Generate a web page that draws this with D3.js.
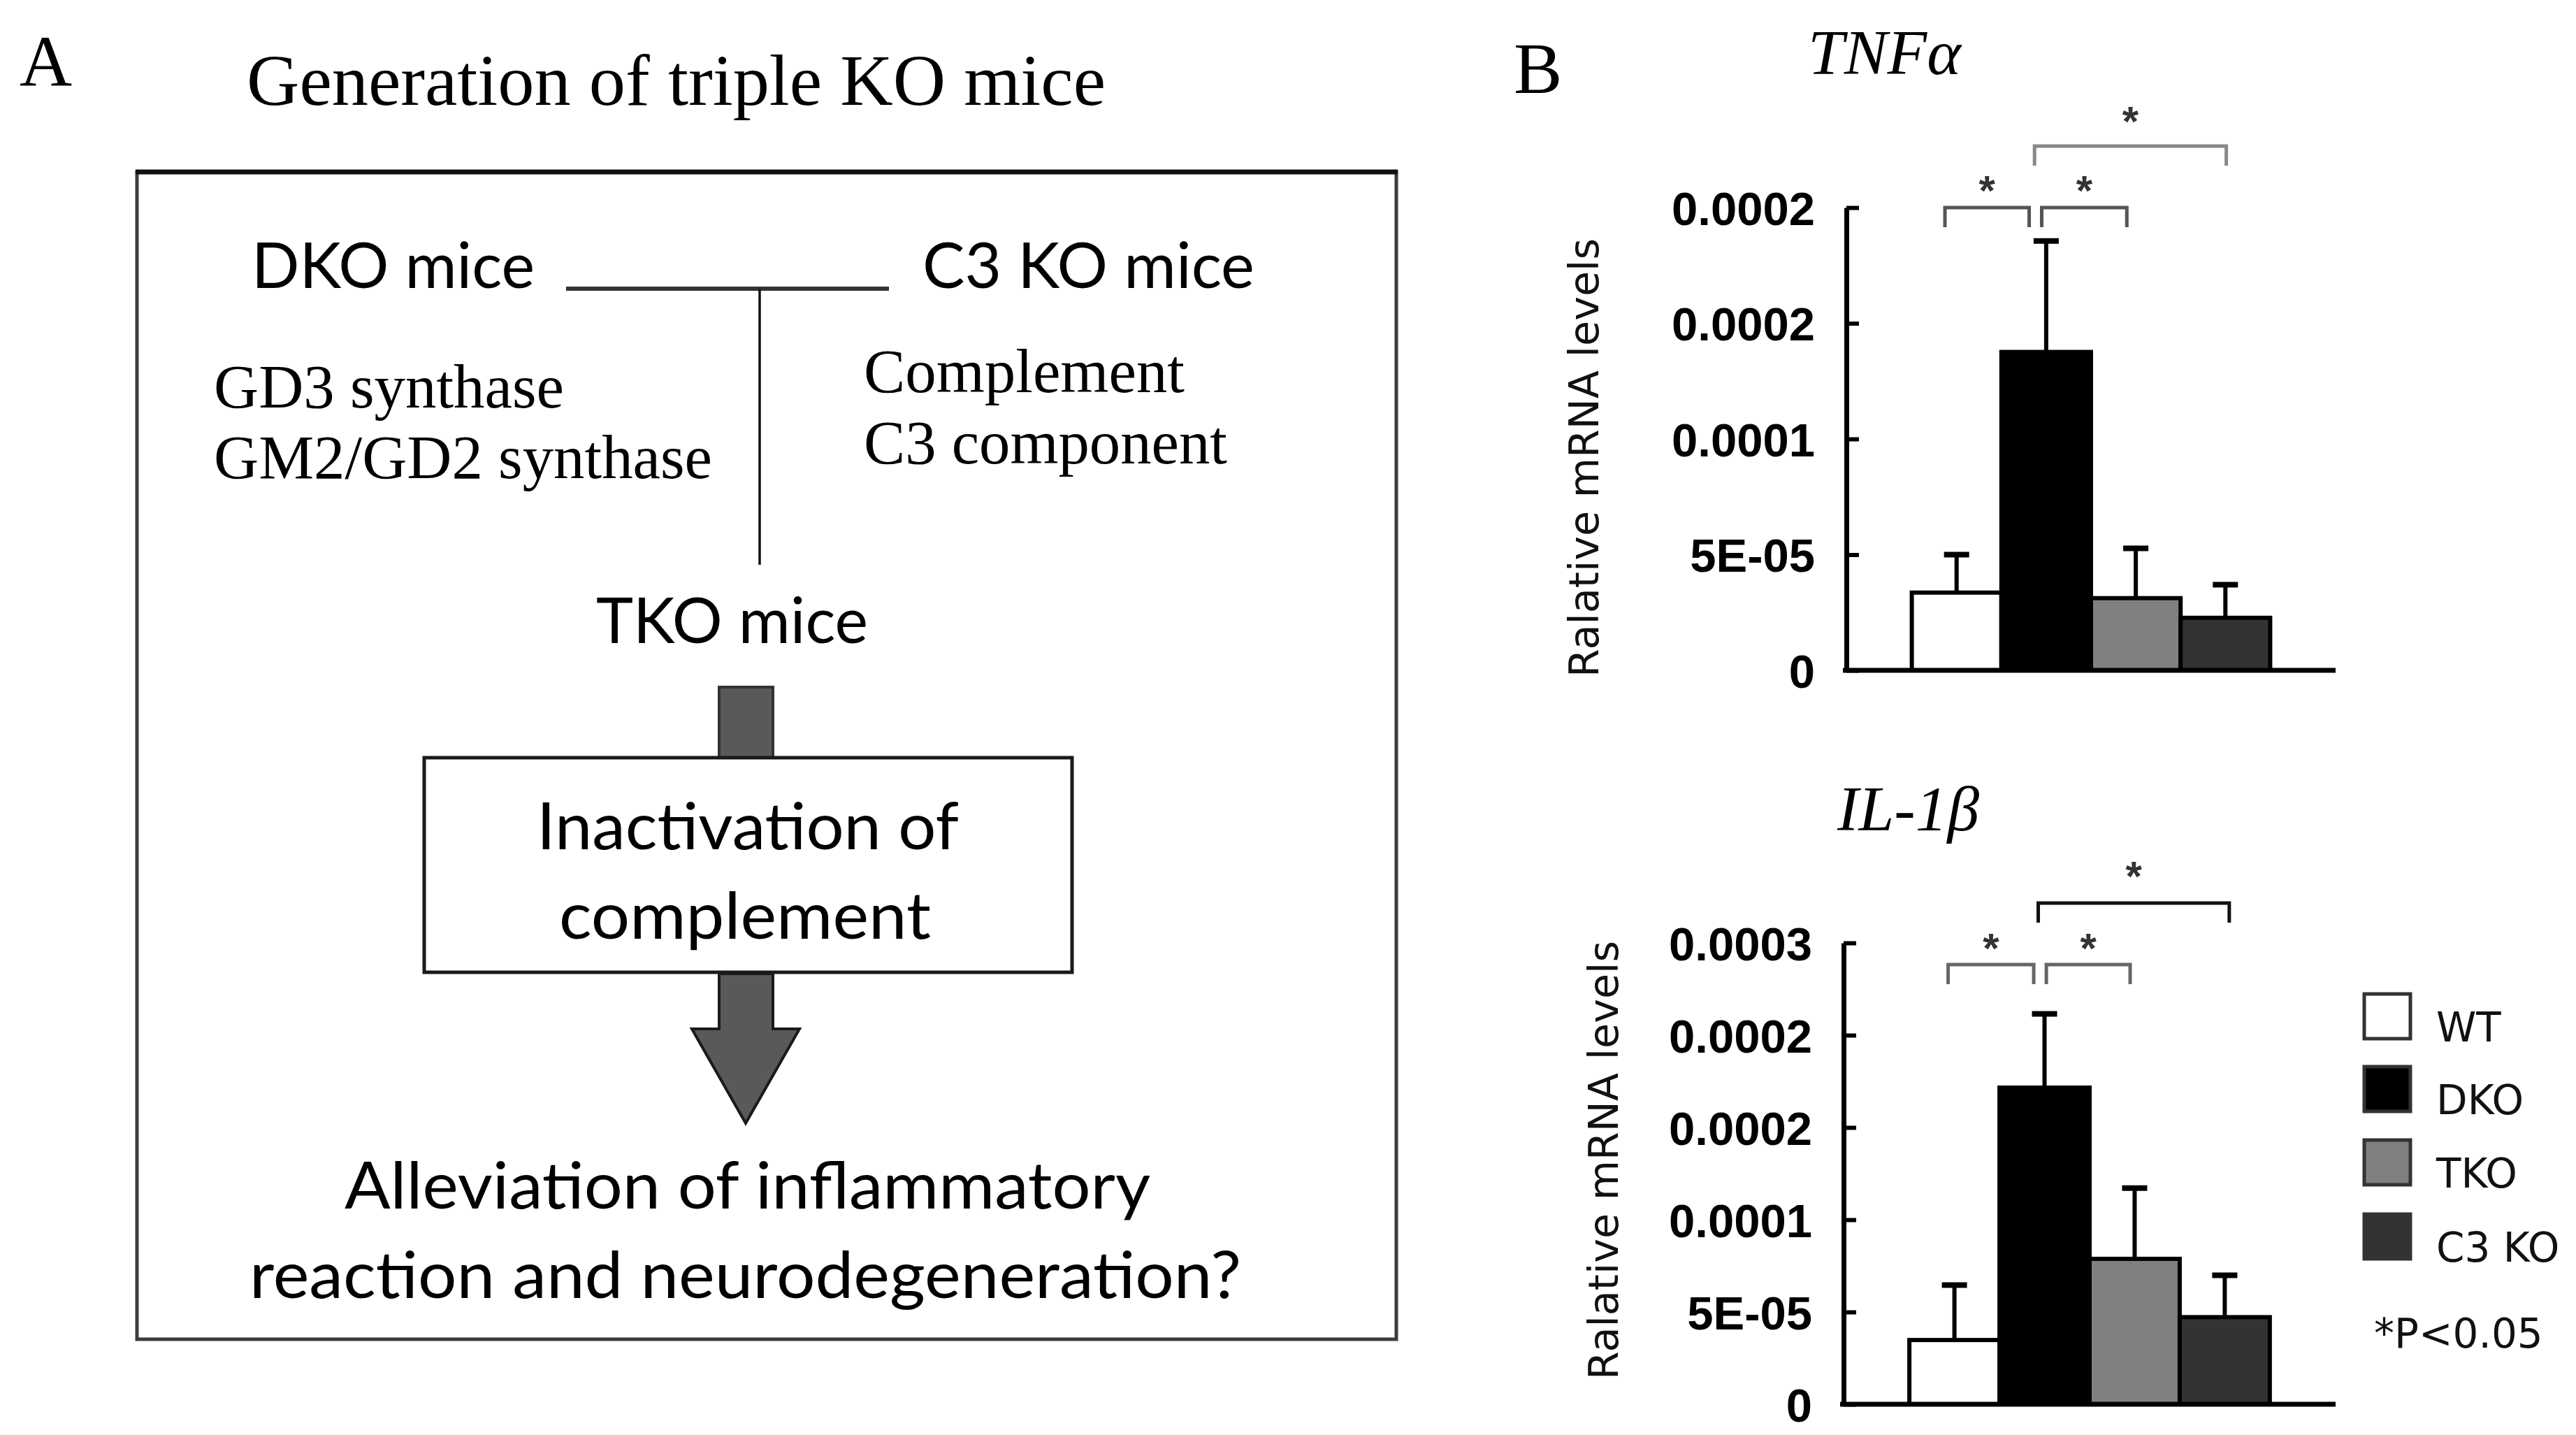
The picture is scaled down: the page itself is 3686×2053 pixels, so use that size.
<!DOCTYPE html>
<html>
<head>
<meta charset="utf-8">
<script src="https://cdn.jsdelivr.net/npm/d3@7/dist/d3.min.js"></script>
<style>
html,body{margin:0;padding:0;background:#fff;}
svg{display:block;}
</style>
</head>
<body>
<script>
// ---------------- DATA ----------------
const groups = ["WT", "DKO", "TKO", "C3 KO"];
const groupFills = ["#ffffff", "#000000", "#808080", "#333333"];

const tnfMean = [3.36e-5, 1.376e-4, 3.12e-5, 2.27e-5];
const tnfErr  = [1.64e-5, 4.8e-5, 2.15e-5, 1.43e-5];
const tnfTicks = [0, 5e-5, 1e-4, 1.5e-4, 2e-4];
const tnfTickLabels = ["0", "5E-05", "0.0001", "0.0002", "0.0002"];

const il1Mean = [3.48e-5, 1.716e-4, 7.88e-5, 4.72e-5];
const il1Err  = [2.98e-5, 4.0e-5, 3.83e-5, 2.27e-5];
const il1Ticks = [0, 5e-5, 1e-4, 1.5e-4, 2e-4, 2.5e-4];
const il1TickLabels = ["0", "5E-05", "0.0001", "0.0002", "0.0002", "0.0003"];

const comparisons = [["WT", "DKO"], ["DKO", "TKO"], ["DKO", "C3 KO"]];
const sigLabel = "*";
const yAxisTitle = "Ralative mRNA levels";
const pNote = "*P<0.05";

// ---------------- SETUP ----------------
const W = 3686, H = 2053;
const svg = d3.select("body").append("svg")
  .attr("width", W).attr("height", H)
  .attr("viewBox", `0 0 ${W} ${H}`);
svg.append("rect").attr("width", W).attr("height", H).attr("fill", "#fff");

const SERIF = "'Liberation Serif','Times New Roman',serif";
const CAL = "Lato,'Open Sans',sans-serif";
const SANS = "'DejaVu Sans',Verdana,sans-serif";
const ARIAL = "'Liberation Sans',Arial,sans-serif";

function txt(g, s, x, y, o) {
  const t = g.append("text").attr("x", x).attr("y", y).text(s)
    .attr("font-family", o.family).attr("font-size", o.size)
    .attr("fill", o.fill || "#000");
  if (o.anchor) t.attr("text-anchor", o.anchor);
  if (o.style) t.attr("font-style", o.style);
  if (o.weight) t.attr("font-weight", o.weight);
  if (o.len) t.attr("textLength", o.len).attr("lengthAdjust", "spacingAndGlyphs");
  return t;
}

// ---------------- PANEL A ----------------
const A = svg.append("g");
txt(A, "A", 28, 123, {family: SERIF, size: 104});
txt(A, "Generation of triple KO mice", 353, 150, {family: SERIF, size: 104, len: 1229});

// outer box
A.append("rect").attr("x", 196).attr("y", 246).attr("width", 1802).attr("height", 1670)
  .attr("fill", "none").attr("stroke", "#3c3c3c").attr("stroke-width", 5);
A.append("line").attr("x1", 194).attr("x2", 2000).attr("y1", 246).attr("y2", 246)
  .attr("stroke", "#111").attr("stroke-width", 7);

txt(A, "DKO mice", 360, 412, {family: CAL, size: 92, len: 405});
txt(A, "C3 KO mice", 1320, 412, {family: CAL, size: 92, len: 475});
A.append("line").attr("x1", 810).attr("x2", 1272).attr("y1", 413).attr("y2", 413)
  .attr("stroke", "#333").attr("stroke-width", 6);
A.append("line").attr("x1", 1087).attr("x2", 1087).attr("y1", 413).attr("y2", 808)
  .attr("stroke", "#111").attr("stroke-width", 3.5);

txt(A, "GD3 synthase", 306, 583, {family: SERIF, size: 89, len: 501});
txt(A, "GM2/GD2 synthase", 306, 684, {family: SERIF, size: 89, len: 713});
txt(A, "Complement", 1236, 561, {family: SERIF, size: 89, len: 459});
txt(A, "C3 component", 1236, 663, {family: SERIF, size: 89, len: 520});

txt(A, "TKO mice", 853, 920, {family: CAL, size: 92, len: 389});

// arrow shaft 1
A.append("rect").attr("x", 1029).attr("y", 983).attr("width", 77).attr("height", 102)
  .attr("fill", "#595959").attr("stroke", "#333").attr("stroke-width", 4);
// inner box
A.append("rect").attr("x", 607).attr("y", 1084).attr("width", 927).attr("height", 307)
  .attr("fill", "#fff").attr("stroke", "#1a1a1a").attr("stroke-width", 5);
txt(A, "Inactivation of", 768, 1215, {family: CAL, size: 93, len: 604});
txt(A, "complement", 800, 1343, {family: CAL, size: 93, len: 532});
// arrow 2
const arrowPts = [[1029,1393],[1106,1393],[1106,1472],[1144,1472],[1067,1607],[990,1472],[1029,1472]];
A.append("path").attr("d", d3.line()(arrowPts) + "Z")
  .attr("fill", "#595959").attr("stroke", "#1a1a1a").attr("stroke-width", 4).attr("stroke-linejoin", "miter");

txt(A, "Alleviation of inflammatory", 493, 1729, {family: CAL, size: 93, len: 1153});
txt(A, "reaction and neurodegeneration?", 357, 1857, {family: CAL, size: 93, len: 1419});

// ---------------- PANEL B ----------------
const B = svg.append("g");
txt(B, "B", 2166, 133, {family: SERIF, size: 104});

function drawChart(cfg) {
  const g = B.append("g");
  const x = d3.scaleBand().domain(groups).range([cfg.axisX, cfg.xEnd])
    .paddingInner(0).paddingOuter(0.73);
  const y = d3.scaleLinear().domain([0, d3.max(cfg.ticks)]).range([cfg.zeroY, cfg.topY]);
  const bw = x.bandwidth();
  const data = groups.map((k, i) => ({k, m: cfg.means[i], e: cfg.errs[i], fill: groupFills[i]}));

  // title
  txt(g, cfg.title, cfg.titleX, cfg.titleY, {family: SERIF, size: 90, style: "italic", len: cfg.titleLen});

  // y axis title
  g.append("text")
    .attr("transform", `translate(${cfg.yTitleX},${cfg.yTitleY}) rotate(-90)`)
    .attr("text-anchor", "middle")
    .attr("font-family", SANS).attr("font-size", 58).attr("fill", "#111")
    .attr("textLength", 628).attr("lengthAdjust", "spacingAndGlyphs")
    .text(yAxisTitle);

  // error bars (upper only)
  const eb = g.append("g");
  eb.selectAll("line.v").data(data).join("line")
    .attr("x1", d => x(d.k) + bw / 2).attr("x2", d => x(d.k) + bw / 2)
    .attr("y1", d => y(d.m)).attr("y2", d => y(d.m + d.e))
    .attr("stroke", "#000").attr("stroke-width", 6);
  eb.selectAll("line.c").data(data).join("line")
    .attr("x1", d => x(d.k) + bw / 2 - 18).attr("x2", d => x(d.k) + bw / 2 + 18)
    .attr("y1", d => y(d.m + d.e)).attr("y2", d => y(d.m + d.e))
    .attr("stroke", "#000").attr("stroke-width", 8);

  // bars
  g.append("g").selectAll("rect").data(data).join("rect")
    .attr("x", d => x(d.k)).attr("width", bw)
    .attr("y", d => y(d.m)).attr("height", d => y(0) - y(d.m))
    .attr("fill", d => d.fill).attr("stroke", "#000").attr("stroke-width", 6);

  // y axis
  const yAxis = d3.axisLeft(y).tickValues(cfg.ticks)
    .tickFormat((d, i) => cfg.tickLabels[i])
    .tickSize(-18).tickSizeOuter(0).tickPadding(45);
  const ag = g.append("g").attr("transform", `translate(${cfg.axisX},0)`).call(yAxis);
  ag.select(".domain").attr("stroke", "#000").attr("stroke-width", 7);
  ag.selectAll(".tick line").attr("stroke", "#000").attr("stroke-width", 6);
  ag.selectAll(".tick text").attr("font-family", ARIAL).attr("font-weight", "bold")
    .attr("font-size", 67).attr("fill", "#000").attr("dy", "0.36em");

  // x axis line
  g.append("line").attr("x1", cfg.axisX - 5).attr("x2", cfg.xEnd)
    .attr("y1", y(0)).attr("y2", y(0)).attr("stroke", "#000").attr("stroke-width", 7);

  // significance brackets
  const cx = k => x(k) + bw / 2;
  comparisons.forEach((c, i) => {
    const b = cfg.brackets[i];
    const x1 = cx(c[0]) + b.o1 * bw, x2 = cx(c[1]) + b.o2 * bw;
    g.append("path")
      .attr("d", `M${x1},${b.y + 28}V${b.y}H${x2}V${b.y + 28}`)
      .attr("fill", "none").attr("stroke", b.color).attr("stroke-width", 5);
    g.append("text").attr("x", (x1 + x2) / 2).attr("y", b.starY + 34)
      .attr("text-anchor", "middle").attr("font-family", ARIAL).attr("font-size", 60)
      .attr("font-weight", "bold").attr("fill", "#333").text(sigLabel);
  });
}

drawChart({
  means: tnfMean, errs: tnfErr, ticks: tnfTicks, tickLabels: tnfTickLabels,
  axisX: 2642, xEnd: 3342, zeroY: 959, topY: 297,
  title: "TNFα", titleX: 2587, titleY: 106, titleLen: 219,
  yTitleX: 2287, yTitleY: 655,
  brackets: [
    {o1: -0.13, o2: -0.19, y: 297, starY: 259, color: "#555"},
    {o1: -0.05, o2: -0.10, y: 297, starY: 259, color: "#555"},
    {o1: -0.13, o2: 0.01, y: 209, starY: 160, color: "#888"}
  ]
});

drawChart({
  means: il1Mean, errs: il1Err, ticks: il1Ticks, tickLabels: il1TickLabels,
  axisX: 2638, xEnd: 3342, zeroY: 2009, topY: 1349,
  title: "IL-1β", titleX: 2629, titleY: 1188, titleLen: 203,
  yTitleX: 2315, yTitleY: 1660,
  brackets: [
    {o1: -0.07, o2: -0.12, y: 1380, starY: 1343, color: "#666"},
    {o1: 0.02, o2: -0.05, y: 1380, starY: 1343, color: "#666"},
    {o1: -0.07, o2: 0.05, y: 1292, starY: 1240, color: "#111"}
  ]
});

// legend
const L = svg.append("g");
const legY = [1422, 1526, 1631, 1737];
groups.forEach((k, i) => {
  L.append("rect").attr("x", 3383).attr("y", legY[i]).attr("width", 66).attr("height", 64)
    .attr("fill", groupFills[i]).attr("stroke", "#333").attr("stroke-width", 5);
  txt(L, k, 3486, legY[i] + 68, {family: SANS, size: 58, fill: "#111"});
});
txt(L, pNote, 3397, 1928, {family: SANS, size: 58, fill: "#111"});
</script>
</body>
</html>
